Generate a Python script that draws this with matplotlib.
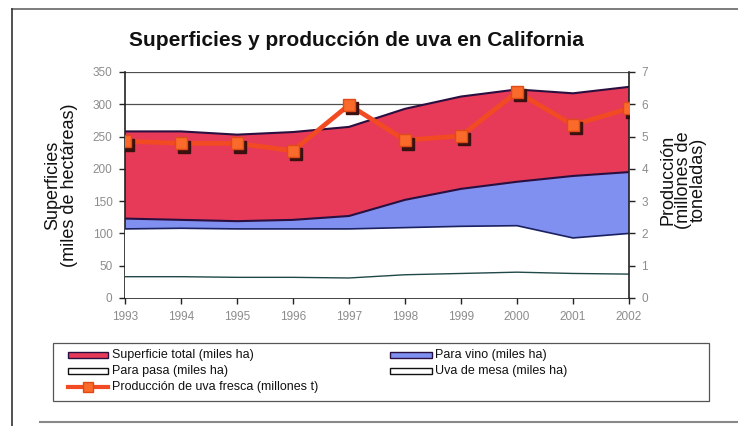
import matplotlib
matplotlib.use("Agg")
import matplotlib.pyplot as plt
from matplotlib.transforms import offset_copy
from matplotlib.patches import Rectangle
from matplotlib.lines import Line2D

plt.rcParams['font.family'] = ['Liberation Sans', 'DejaVu Sans']

years = [1993, 1994, 1995, 1996, 1997, 1998, 1999, 2000, 2001, 2002]
year_labels = ["1993", "1994", "1995", "1996", "1997", "1998", "1999", "2000", "2001", "2002"]
superficie_total = [258, 258, 253, 257, 265, 293, 312, 323, 317, 327]
para_vino = [123, 121, 119, 121, 127, 152, 169, 180, 189, 195]
para_pasa = [107, 108, 107, 107, 107, 109, 111, 112, 93, 100]
uva_mesa = [33, 33, 32, 32, 31, 36, 38, 40, 38, 37]
produccion = [4.86, 4.79, 4.79, 4.56, 5.98, 4.89, 5.02, 6.38, 5.36, 5.87]
legend_labels = ["Superficie total (miles ha)", "Para vino (miles ha)",
                 "Para pasa (miles ha)", "Uva de mesa (miles ha)",
                 "Producción de uva fresca (millones t)"]

RED = "#E63A58"
BLUE = "#8090F0"
LINE = "#F24A22"
MARK = "#FA6A2A"
EDGE = "#2A1040"
TICKLBL = "#8C8C8C"

W, H = 738, 426
fig = plt.figure(figsize=(W / 100, H / 100), dpi=100)


def fx(px):
    return px / W


def fy(py):
    return 1 - py / H


L, R, T, B = 125, 629, 72, 298
ax = fig.add_axes([fx(L), fy(B), (R - L) / W, (B - T) / H])

ax.set_xlim(years[0], years[-1])
ax.set_ylim(0, 350)
ax.set_yticks(range(0, 351, 50))
for g in range(50, 351, 50):
    ax.axhline(g, color="#505050", lw=0.9, zorder=0)

ax.fill_between(years, 0, superficie_total, facecolor=RED, edgecolor="none", zorder=1)
ax.plot(years, superficie_total, color=EDGE, lw=1.5, zorder=1.1)
ax.fill_between(years, 0, para_vino, facecolor=BLUE, edgecolor="none", zorder=2)
ax.plot(years, para_vino, color=EDGE, lw=1.5, zorder=2.1)
ax.fill_between(years, 0, para_pasa, facecolor="white", edgecolor="none", zorder=3)
ax.plot(years, para_pasa, color="#1A2060", lw=1.2, zorder=3.1)
ax.fill_between(years, 0, uva_mesa, facecolor="white", edgecolor="none", zorder=4)
ax.plot(years, uva_mesa, color="#204848", lw=1.0, zorder=4.1)

ax.set_xticks(years)
ax.set_xticklabels(year_labels)
ax.tick_params(axis='both', colors="#222222", labelcolor=TICKLBL, labelsize=8.5, length=4, width=1)
ax.tick_params(axis='x', pad=5)
ax.tick_params(axis='y', pad=5)
for s in ["top", "right"]:
    ax.spines[s].set_visible(False)
for s in ["left", "bottom"]:
    ax.spines[s].set_color("#222222")
    ax.spines[s].set_linewidth(1.2)

ax2 = ax.twinx()
ax2.set_ylim(0, 7)
ax2.set_yticks(range(0, 8))
ax2.tick_params(axis='y', colors="#222222", labelcolor=TICKLBL, labelsize=8.5, length=4, width=1, pad=5)
for s in ["top", "left", "bottom"]:
    ax2.spines[s].set_visible(False)
ax2.spines["right"].set_color("#222222")
ax2.spines["right"].set_linewidth(1.2)

ax2.plot(years, produccion, color=LINE, lw=3.4, zorder=5)
shadow_tr = offset_copy(ax2.transData, fig=fig, x=2.5, y=-2.5, units='points')
ax2.plot(years, produccion, ls="none", marker="s", ms=8, color="#3A1010", transform=shadow_tr, zorder=6)
ax2.plot(years, produccion, ls="none", marker="s", ms=8, color=MARK, mec="#E04A18", zorder=7)

fig.text(fx(61), fy(185), "Superficies\n(miles de hectáreas)", fontsize=13, rotation=90,
         ha="center", va="center", linespacing=1.0, color="#111111")
fig.text(fx(683), fy(180), "Producción\n(millones de\ntoneladas)", fontsize=13, rotation=90,
         ha="center", va="center", linespacing=0.85, color="#111111")

fig.text(fx(356), fy(41), "Superficies y producción de uva en California", fontsize=15,
         fontweight="bold", ha="center", va="center", color="#111111")

# legend drawn by hand (Excel-style row-major layout)
fig.add_artist(Rectangle((fx(53), fy(401)), (709 - 53) / W, (401 - 343) / H,
                         transform=fig.transFigure, facecolor="white", edgecolor="#555555", lw=0.9))
rows = [355, 371, 387]
col_patch = [(68, 108), (390, 432)]
col_text = [112, 435]
entries = [
    (0, 0, "patch", RED, EDGE),
    (1, 0, "patch", BLUE, EDGE),
    (0, 1, "patch", "white", "#111111"),
    (1, 1, "patch", "white", "#111111"),
    (0, 2, "line", LINE, None),
]
for (c, r, kind, col, ec), lab in zip(entries, legend_labels):
    y = rows[r]
    x0, x1 = col_patch[c]
    if kind == "patch":
        fig.add_artist(Rectangle((fx(x0), fy(y + 3)), (x1 - x0) / W, 6 / H,
                                 transform=fig.transFigure, facecolor=col, edgecolor=ec, lw=1.0))
    else:
        fig.add_artist(Line2D([fx(x0), fx(x1)], [fy(y), fy(y)], color=col, lw=3,
                              transform=fig.transFigure))
        fig.add_artist(Line2D([fx((x0 + x1) / 2)], [fy(y)], ls="none", marker="s", ms=7,
                              mfc=MARK, mec="#E04A18", transform=fig.transFigure))
    fig.text(fx(col_text[c]), fy(y), lab, fontsize=9,
             ha="left", va="center", color="#111111")

# outer frame lines (scanned border)
fig.add_artist(Line2D([fx(12), 1.0], [fy(9), fy(9)], color="#666666", lw=1.2))
fig.add_artist(Line2D([fx(12), fx(12)], [0.0, fy(9)], color="#333333", lw=1.2))
fig.add_artist(Line2D([fx(40), 1.0], [fy(422), fy(422)], color="#888888", lw=1.5))

fig.savefig("out.png", dpi=100)
